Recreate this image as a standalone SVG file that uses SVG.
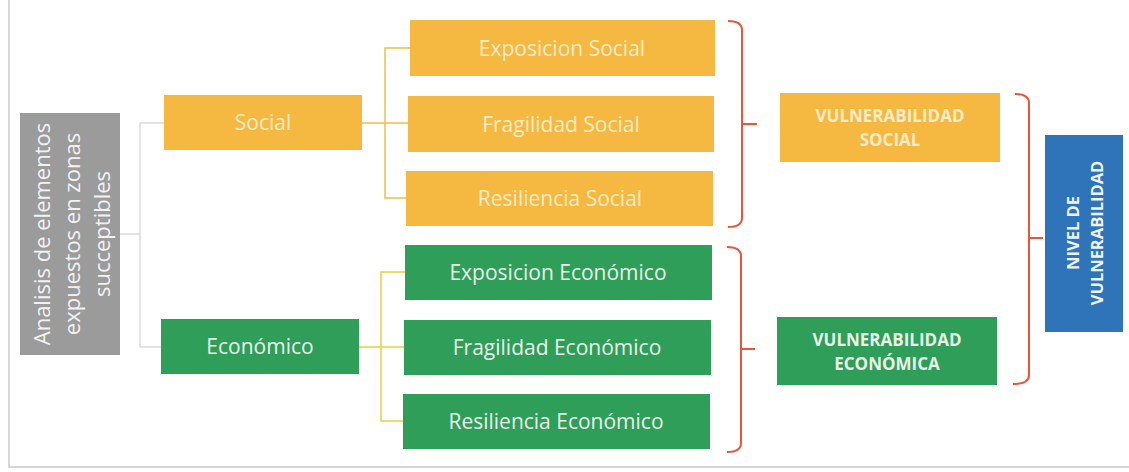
<svg xmlns="http://www.w3.org/2000/svg" width="1129" height="472" viewBox="0 0 1129 472">
<style>
.y{fill:#f5b942}
.g{fill:#2e9e58}
.t{font-family:"Open Sans","Liberation Sans",sans-serif;font-size:21px;text-anchor:middle;dominant-baseline:central}
.ty{fill:#fcecc6}
.tg{fill:#e8f4ea}
.b{font-family:"Open Sans","Liberation Sans",sans-serif;font-weight:bold;font-size:17px;text-anchor:middle;dominant-baseline:central}
.ln{fill:none;stroke-width:1.5}
.red{fill:none;stroke:#e8553a;stroke-width:2}
</style>
<rect x="0" y="0" width="1129" height="472" fill="#ffffff"/>
<path d="M9 0 V467 H1129" fill="none" stroke="#d6d6d6" stroke-width="2"/>
<g id="connectors">
<path class="ln" stroke="#dcdcdc" d="M120 234 H140 M164 123 H140 V347 H161"/>
<path class="ln" stroke="#e9c24a" d="M362 123 H408 M410 48 H385 V198 H406"/>
<path class="ln" stroke="#e6d040" d="M359 347 H404 M405 272 H381 V421 H403"/>
<path class="red" d="M728 21 Q742 21 742 30 V218 Q742 227 728 227 M742 124 H757"/>
<path class="red" d="M727 247 Q741 247 741 256 V443 Q741 452 727 452 M741 349 H755"/>
<path class="red" d="M1015 94 Q1029 94 1029 103 V375 Q1029 384 1013 384 M1029 238 H1043"/>
</g>
<g id="analisis">
<rect x="20" y="113" width="100" height="242" fill="#9b9b9b"/>
<g transform="translate(71 234) rotate(-90)" class="t" fill="#f2f2f2" style="font-size:22px">
<text x="0" y="-30">Analisis de elementos</text>
<text x="0" y="0">expuestos en zonas</text>
<text x="0" y="30">succeptibles</text>
</g>
</g>
<g id="social"><rect class="y" x="164" y="95" width="198" height="55"/><text class="t ty" x="263" y="122">Social</text></g>
<g id="economico"><rect class="g" x="161" y="319" width="198" height="55"/><text class="t tg" x="260" y="346">Económico</text></g>
<g id="exp-social"><rect class="y" x="410" y="20" width="305" height="56"/><text class="t ty" x="562" y="48">Exposicion Social</text></g>
<g id="frag-social"><rect class="y" x="408" y="96" width="306" height="56"/><text class="t ty" x="561" y="124">Fragilidad Social</text></g>
<g id="res-social"><rect class="y" x="406" y="171" width="307" height="55"/><text class="t ty" x="560" y="198">Resiliencia Social</text></g>
<g id="exp-eco"><rect class="g" x="405" y="245" width="307" height="55"/><text class="t tg" x="558" y="272">Exposicion Económico</text></g>
<g id="frag-eco"><rect class="g" x="404" y="320" width="307" height="55"/><text class="t tg" x="557" y="347">Fragilidad Económico</text></g>
<g id="res-eco"><rect class="g" x="403" y="394" width="307" height="55"/><text class="t tg" x="556" y="421">Resiliencia Económico</text></g>
<g id="vuln-social"><rect class="y" x="780" y="93" width="220" height="69"/>
<text class="b ty" x="890" y="115">VULNERABILIDAD</text><text class="b ty" x="890" y="139">SOCIAL</text></g>
<g id="vuln-eco"><rect class="g" x="777" y="317" width="220" height="68"/>
<text class="b tg" x="887" y="339">VULNERABILIDAD</text><text class="b tg" x="887" y="363">ECONÓMICA</text></g>
<g id="nivel"><rect x="1045" y="135" width="78" height="197" fill="#2f74b8"/>
<g transform="translate(1084 233) rotate(-90)" class="b" fill="#eef3fa" style="font-size:16.5px">
<text x="0" y="-12">NIVEL DE</text><text x="0" y="12">VULNERABILIDAD</text>
</g></g>
</svg>
